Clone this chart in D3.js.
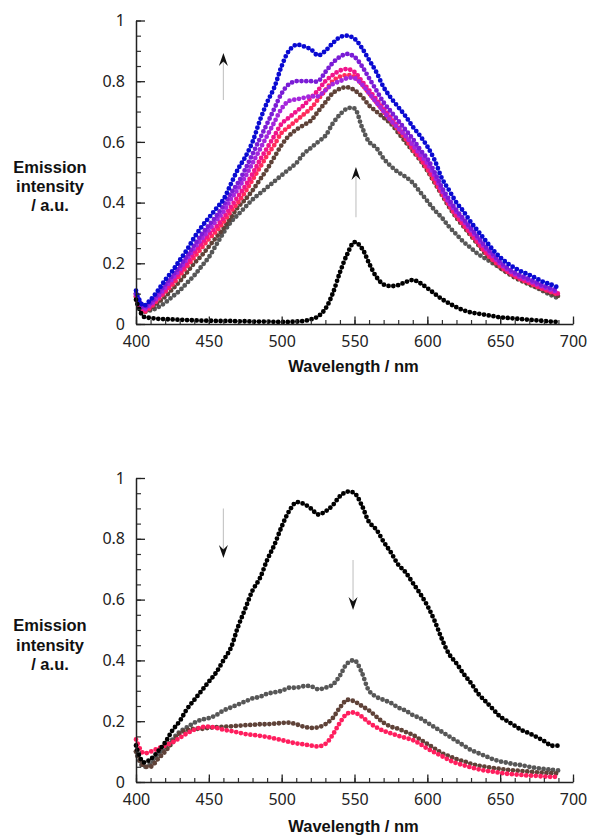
<!DOCTYPE html>
<html>
<head>
<meta charset="utf-8">
<script src="https://cdn.jsdelivr.net/npm/d3@7/dist/d3.min.js"></script>
<style>
  body { margin: 0; background: #fff; }
  .tick text { font-family: "Noto Sans", sans-serif; font-size: 16px; fill: #222; }
  .title { font-family: "Liberation Sans", Arial, sans-serif; font-weight: bold; font-size: 16.5px; fill: #111; }
</style>
</head>
<body>
<div id="chart"></div>
<script>
// wavelength grid (nm), one reading every 5 nm
var wavelengths = [400, 405, 410, 415, 420, 425, 430, 435, 440, 445, 450, 455, 460, 465, 470, 475, 480, 485, 490, 495,
  500, 505, 510, 515, 520, 525, 530, 535, 540, 545, 550, 555, 560, 565, 570, 575, 580, 585, 590, 595,
  600, 605, 610, 615, 620, 625, 630, 635, 640, 645, 650, 655, 660, 665, 670, 675, 680, 685, 690];

// upper panel
var topBlack = [.08,.025,.02,.017,.016,.015,.014,.013,.012,.011,.011,.01,.01,.01,.009,.009,.008,.008,.008,.007,
  .007,.007,.008,.01,.015,.025,.05,.10,.17,.23,.27,.25,.20,.155,.13,.125,.128,.138,.145,.135,
  .118,.10,.082,.068,.055,.045,.038,.034,.03,.026,.022,.02,.018,.016,.014,.012,.01,.008,.007];
var topGray = [.10,.05,.045,.055,.07,.09,.11,.135,.16,.19,.22,.26,.30,.335,.36,.385,.41,.43,.45,.47,
  .49,.51,.53,.56,.58,.60,.62,.66,.69,.71,.71,.65,.60,.58,.545,.52,.50,.485,.465,.435,
  .405,.375,.35,.32,.295,.27,.25,.23,.215,.20,.185,.17,.158,.145,.133,.12,.107,.095,.085];
var topBrown = [.09,.04,.05,.07,.09,.115,.14,.17,.20,.225,.255,.285,.315,.35,.385,.41,.44,.475,.51,.55,
  .59,.62,.64,.655,.67,.70,.73,.76,.775,.78,.77,.75,.72,.70,.68,.66,.63,.60,.57,.54,
  .505,.465,.425,.385,.35,.32,.29,.26,.23,.205,.185,.168,.153,.141,.13,.12,.11,.10,.092];
var topRose = [.09,.04,.055,.08,.105,.13,.16,.19,.22,.25,.28,.305,.335,.37,.40,.435,.475,.515,.555,.59,
  .63,.65,.67,.69,.71,.74,.77,.80,.815,.82,.815,.79,.76,.73,.70,.67,.64,.61,.575,.545,
  .51,.47,.43,.39,.355,.325,.295,.265,.235,.21,.19,.172,.157,.145,.135,.124,.114,.105,.097];
var topMagenta = [.095,.045,.06,.085,.11,.14,.17,.20,.235,.265,.295,.32,.35,.385,.42,.455,.495,.54,.58,.62,
  .66,.68,.70,.72,.745,.77,.80,.82,.835,.84,.83,.80,.77,.74,.71,.68,.65,.62,.585,.55,
  .52,.48,.435,.395,.36,.33,.30,.27,.24,.215,.195,.175,.16,.148,.138,.127,.117,.108,.10];
var topViolet = [.10,.05,.065,.09,.12,.15,.18,.215,.25,.28,.31,.34,.37,.41,.445,.485,.53,.575,.62,.665,
  .71,.735,.74,.745,.75,.75,.77,.79,.80,.81,.81,.79,.76,.73,.70,.67,.645,.62,.59,.56,
  .53,.49,.44,.40,.37,.34,.31,.28,.25,.225,.20,.18,.165,.153,.143,.132,.122,.113,.105];
var topPurple = [.10,.055,.07,.10,.13,.16,.19,.225,.26,.295,.325,.355,.39,.43,.465,.51,.56,.61,.66,.71,
  .76,.79,.80,.80,.80,.80,.83,.86,.88,.89,.88,.85,.81,.77,.73,.70,.67,.64,.61,.575,
  .545,.50,.45,.41,.375,.345,.315,.285,.255,.23,.205,.185,.17,.158,.148,.137,.126,.118,.11];
var topBlue = [.11,.06,.08,.11,.145,.175,.21,.245,.285,.32,.35,.38,.41,.46,.51,.55,.60,.67,.73,.78,
  .85,.90,.92,.915,.905,.885,.90,.925,.945,.95,.94,.91,.87,.83,.78,.745,.715,.685,.65,.62,
  .585,.54,.48,.44,.40,.37,.335,.305,.275,.245,.22,.20,.185,.172,.162,.15,.138,.13,.12];

// lower panel
var botBlack = [.12,.065,.075,.10,.13,.17,.20,.24,.27,.30,.33,.36,.40,.44,.51,.57,.63,.67,.73,.78,
  .84,.89,.92,.915,.90,.88,.89,.91,.94,.955,.95,.91,.855,.83,.79,.755,.715,.69,.655,.62,
  .58,.53,.47,.42,.39,.355,.325,.29,.265,.24,.215,.20,.185,.17,.16,.148,.135,.12,.12];
var botGray = [.10,.05,.06,.085,.11,.14,.165,.18,.195,.205,.21,.22,.235,.245,.255,.265,.275,.28,.29,.295,
  .30,.31,.31,.315,.315,.305,.31,.32,.35,.39,.40,.36,.30,.28,.27,.26,.245,.235,.22,.21,
  .195,.18,.165,.15,.135,.12,.105,.095,.085,.075,.068,.063,.058,.055,.05,.046,.043,.04,.038];
var botBrown = [.10,.055,.05,.075,.10,.13,.16,.17,.175,.175,.178,.18,.182,.183,.185,.187,.188,.19,.19,.192,
  .194,.195,.19,.182,.178,.18,.19,.21,.245,.27,.265,.25,.235,.215,.195,.182,.175,.165,.155,.14,
  .125,.11,.095,.085,.075,.068,.06,.054,.05,.046,.043,.04,.038,.036,.034,.032,.03,.029,.028];
var botPink = [.14,.095,.10,.11,.12,.13,.145,.16,.172,.18,.182,.178,.172,.168,.163,.158,.155,.152,.148,.143,
  .138,.132,.127,.124,.12,.117,.125,.155,.195,.225,.228,.215,.195,.18,.168,.16,.152,.145,.138,.125,
  .11,.097,.085,.072,.062,.055,.048,.042,.037,.034,.03,.027,.025,.023,.021,.02,.018,.017,.017];

// axis ticks
var xMajor = [400, 450, 500, 550, 600, 650, 700];
var yMajor = [0, 0.2, 0.4, 0.6, 0.8, 1];

// arrows: [wavelength, from, to]
var topArrows = [[460, 0.738, 0.893], [551, 0.352, 0.517]];
var botArrows = [[460, 0.90, 0.737], [549, 0.73, 0.566]];

var width = 590, height = 835;
var plotLeft = 136, plotRight = 573;

var panels = [
  { top: 20.5, bottom: 324, arrows: topArrows, titleY: 372, labelY: [173, 192, 211],
    series: [
      { v: topGray, color: "#575757" },
      { v: topBrown, color: "#5f4238" },
      { v: topRose, color: "#ff2a5c" },
      { v: topMagenta, color: "#f0148c" },
      { v: topViolet, color: "#a526dc" },
      { v: topPurple, color: "#7a1cd6" },
      { v: topBlue, color: "#0a0ad2" },
      { v: topBlack, color: "#000" }
    ] },
  { top: 478, bottom: 782, arrows: botArrows, titleY: 832, labelY: [631, 651, 670],
    series: [
      { v: botGray, color: "#575757" },
      { v: botBrown, color: "#5f4238" },
      { v: botPink, color: "#ff1e5e" },
      { v: botBlack, color: "#000" }
    ] }
];

var svg = d3.select("#chart").append("svg")
  .attr("width", width)
  .attr("height", height);

var x = d3.scaleLinear().domain([400, 700]).range([plotLeft, plotRight]);

panels.forEach(function (p) {
  var y = d3.scaleLinear().domain([0, 1]).range([p.bottom, p.top]);
  var g = svg.append("g");

  // data drawn as closely spaced dots along the spectrum
  var line = d3.line()
    .curve(d3.curveCatmullRom)
    .x(function (d, i) { return x(wavelengths[i]); })
    .y(function (d) { return y(d); });

  p.series.forEach(function (s) {
    g.append("path")
      .datum(s.v)
      .attr("d", line)
      .attr("fill", "none")
      .attr("stroke", s.color)
      .attr("stroke-width", 4.8)
      .attr("stroke-linecap", "round")
      .attr("stroke-dasharray", "0 4.8");
  });

  // minor ticks
  g.append("g")
    .attr("transform", "translate(0," + p.bottom + ")")
    .call(d3.axisBottom(x).tickValues(d3.range(400, 701, 10)).tickSize(-4).tickFormat(""))
    .call(function (a) { a.select(".domain").remove(); a.selectAll("line").attr("stroke", "#333").attr("stroke-width", 1.2); });
  g.append("g")
    .attr("transform", "translate(" + plotLeft + ",0)")
    .call(d3.axisLeft(y).tickValues(d3.range(0, 1.001, 0.05)).tickSize(-5).tickFormat(""))
    .call(function (a) { a.select(".domain").remove(); a.selectAll("line").attr("stroke", "#333").attr("stroke-width", 1.2); });

  // major ticks + labels
  var xa = g.append("g")
    .attr("transform", "translate(0," + p.bottom + ")")
    .call(d3.axisBottom(x).tickValues(xMajor).tickSize(-7.5).tickSizeOuter(0).tickPadding(12).tickFormat(d3.format("d")));
  var ya = g.append("g")
    .attr("transform", "translate(" + plotLeft + ",0)")
    .call(d3.axisLeft(y).tickValues(yMajor).tickSize(-9).tickSizeOuter(0).tickPadding(11)
      .tickFormat(function (d) { return String(+d.toFixed(1)); }));
  [xa, ya].forEach(function (a) {
    a.select(".domain").attr("stroke", "#222").attr("stroke-width", 1.5);
    a.selectAll(".tick line").attr("stroke", "#222").attr("stroke-width", 1.3);
  });

  // arrows
  p.arrows.forEach(function (ar) {
    var ax = x(ar[0]), y0 = y(ar[1]), y1 = y(ar[2]);
    var dir = y1 < y0 ? 1 : -1;
    g.append("line")
      .attr("x1", ax).attr("x2", ax)
      .attr("y1", y0).attr("y2", y1 + dir * 4)
      .attr("stroke", "#c8c8c8").attr("stroke-width", 1.2);
    g.append("path")
      .attr("d", "M0,0L4.5," + 13 * dir + "L0," + 8.5 * dir + "L-4.5," + 13 * dir + "Z")
      .attr("transform", "translate(" + ax + "," + y1 + ")")
      .attr("fill", "#111");
  });

  // titles
  g.append("text")
    .attr("class", "title")
    .attr("x", (plotLeft + plotRight) / 2 - 1)
    .attr("y", p.titleY)
    .attr("text-anchor", "middle")
    .text("Wavelength / nm");
  ["Emission", "intensity", "/ a.u."].forEach(function (t, i) {
    g.append("text")
      .attr("class", "title")
      .attr("x", 50)
      .attr("y", p.labelY[i])
      .attr("text-anchor", "middle")
      .text(t);
  });
});
</script>
</body>
</html>
